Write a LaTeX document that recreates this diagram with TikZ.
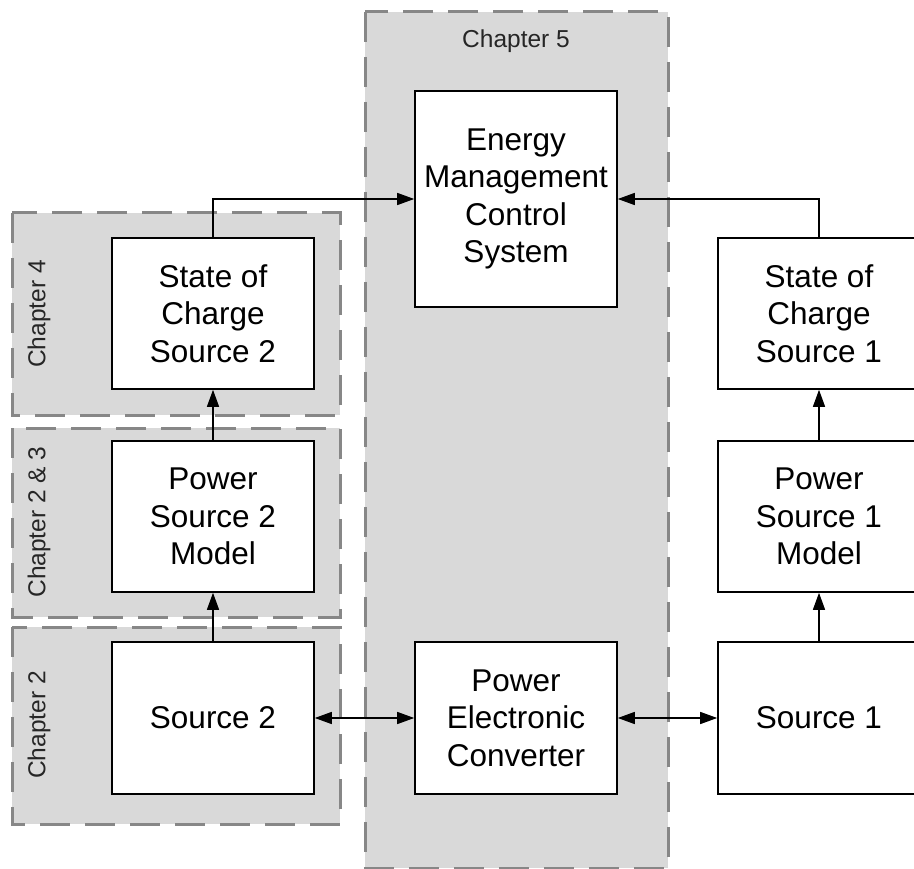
\documentclass[tikz,border=0pt]{standalone}
\usepackage{fontspec}
\setmainfont{Liberation Sans}
\usetikzlibrary{arrows.meta}

\tikzset{
  chapterzone/.style={fill=black!15, draw=black!47, line width=3pt,
    dash pattern=on 30pt off 15pt},
  block/.style={draw=black, line width=1.6pt, fill=white, minimum width=202pt,
    align=center, inner sep=0pt,
    font=\fontsize{31.5pt}{37.5pt}\selectfont},
  chaptag/.style={font=\fontsize{24.5pt}{28pt}\selectfont, text=black!85},
  link/.style={line width=1.4pt, -{Triangle[length=17pt,width=12pt]}},
  duplex/.style={line width=1.4pt,
    {Triangle[length=17pt,width=12pt]}-{Triangle[length=17pt,width=12pt]}}
}

\begin{document}
\begin{tikzpicture}[x=1pt, y=-1pt]
\useasboundingbox (0,0) rectangle (914,869);
\clip (0,0) rectangle (914,869);
\fill[white] (0,0) rectangle (914,869);

% chapter zones
\draw[chapterzone] (365,12) rectangle (668,868);
\draw[chapterzone] (12,213) rectangle (340,415);
\draw[chapterzone] (12,428) rectangle (340,617);
\draw[chapterzone] (12,627) rectangle (340,824);

\node[chaptag] (ch5) at (516,41) {Chapter 5};
\node[chaptag, rotate=90] (ch4) at (39,314) {Chapter 4};
\node[chaptag, rotate=90] (ch23) at (39,522) {Chapter 2 \& 3};
\node[chaptag, rotate=90] (ch2) at (39,725) {Chapter 2};

% blocks
\node[block, minimum height=216pt] (emcs) at (516,199)
  {Energy\\Management\\Control\\System};
\node[block, minimum height=152pt] (pec) at (516,718)
  {Power\\Electronic\\Converter};

\node[block, minimum height=151pt] (soc2) at (213,313.5)
  {State of\\Charge\\Source 2};
\node[block, minimum height=151pt] (ps2) at (213,516.5)
  {Power\\Source 2\\Model};
\node[block, minimum height=152pt] (src2) at (213,718) {Source 2};

\node[block, minimum height=151pt] (soc1) at (819,313.5)
  {State of\\Charge\\Source 1};
\node[block, minimum height=151pt] (ps1) at (819,516.5)
  {Power\\Source 1\\Model};
\node[block, minimum height=152pt] (src1) at (819,718) {Source 1};

% connectors
\draw[link] (soc2.north) |- (emcs.west);
\draw[link] (soc1.north) |- (emcs.east);
\draw[link] (src2.north) -- (ps2.south);
\draw[link] (ps2.north) -- (soc2.south);
\draw[link] (src1.north) -- (ps1.south);
\draw[link] (ps1.north) -- (soc1.south);
\draw[duplex] (src2.east) -- (pec.west);
\draw[duplex] (pec.east) -- (src1.west);
\end{tikzpicture}
\end{document}
